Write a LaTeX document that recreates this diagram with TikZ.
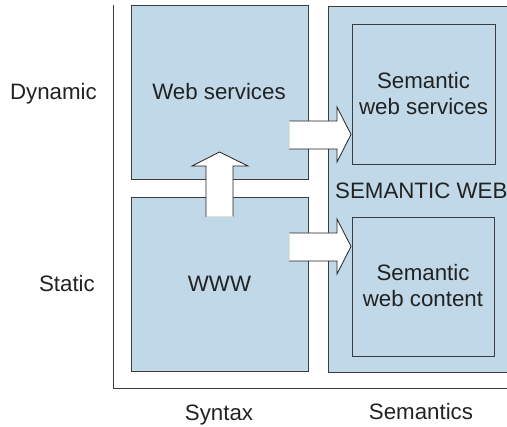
\documentclass[tikz,border=0pt]{standalone}
\usepackage{fontspec}
\setmainfont{Liberation Sans}
\definecolor{boxblue}{RGB}{192,216,231}
\definecolor{edge}{RGB}{60,60,60}
\definecolor{ink}{RGB}{34,34,34}
\definecolor{tailedge}{RGB}{225,225,210}
\begin{document}
\begin{tikzpicture}[x=1pt,y=-1pt,
  box/.style={draw=edge, line width=1pt, fill=boxblue, inner sep=0pt, outer sep=0pt, anchor=north west},
  lbl/.style={font=\fontsize{22.3}{26}\selectfont, text=ink, inner sep=0pt},
  arrowfill/.style={fill=white, draw=none},
  arrowline/.style={draw=ink, line width=0.8pt, line join=miter},
  arrowtail/.style={draw=tailedge, line width=1pt}]
\useasboundingbox (0,0) rectangle (507,427);
\clip (0,0) rectangle (507,427);
% axes
\coordinate (axtop) at (113,5);
\coordinate (axcorner) at (113,389);
\coordinate (axright) at (512,389);
\draw[edge, line width=1pt] (axtop) -- (axcorner) -- (axright);
% boxes
\node[box, minimum width=177pt, minimum height=174pt] (ws) at (131,6) {};
\node[box, minimum width=177pt, minimum height=174pt] (www) at (131,198) {};
\node[box, minimum width=200pt, minimum height=366pt] (sw) at (328,7) {};
\node[box, minimum width=143pt, minimum height=140pt] (sws) at (352,25) {};
\node[box, minimum width=142pt, minimum height=139pt] (swc) at (352,218) {};
% block arrows
\fill[arrowfill] (289,121) -- (337,121) -- (337,107) -- (351,134.5) -- (337,162) -- (337,149) -- (289,149) -- cycle;
\draw[arrowline] (289,121) -- (337,121) -- (337,107) -- (351,134.5) -- (337,162) -- (337,149) -- (289,149);
\draw[arrowtail] (289,121.5) -- (289,148.5);
\fill[arrowfill] (289,233) -- (337,233) -- (337,219) -- (351,246.5) -- (337,274) -- (337,261) -- (289,261) -- cycle;
\draw[arrowline] (289,233) -- (337,233) -- (337,219) -- (351,246.5) -- (337,274) -- (337,261) -- (289,261);
\draw[arrowtail] (289,233.5) -- (289,260.5);
\fill[arrowfill] (206,217) -- (206,166) -- (192,166) -- (219.5,152) -- (248,166) -- (233,166) -- (233,217) -- cycle;
\draw[arrowline] (206,217) -- (206,166) -- (192,166) -- (219.5,152) -- (248,166) -- (233,166) -- (233,217);
\draw[arrowtail] (206.5,217) -- (232.5,217);
% labels
\node[lbl, anchor=base east] (dyn) at (97,100) {Dynamic};
\node[lbl, anchor=base east] (sta) at (95,292) {Static};
\node[lbl, anchor=base] (syn) at (219,421) {Syntax};
\node[lbl, anchor=base] (sem) at (421,420) {Semantics};
\node[lbl, anchor=base] (wst) at (219,100) {Web services};
\node[lbl, anchor=base] (wwwt) at (219.5,292) {WWW};
\node[lbl, anchor=base west] (swt) at (335,199) {SEMANTIC WEB};
\node[lbl, anchor=base] (swsa) at (423.5,89) {Semantic};
\node[lbl, anchor=base] (swsb) at (423.5,115) {web services};
\node[lbl, anchor=base] (swca) at (423,281) {Semantic};
\node[lbl, anchor=base] (swcb) at (423,307) {web content};
\end{tikzpicture}
\end{document}
